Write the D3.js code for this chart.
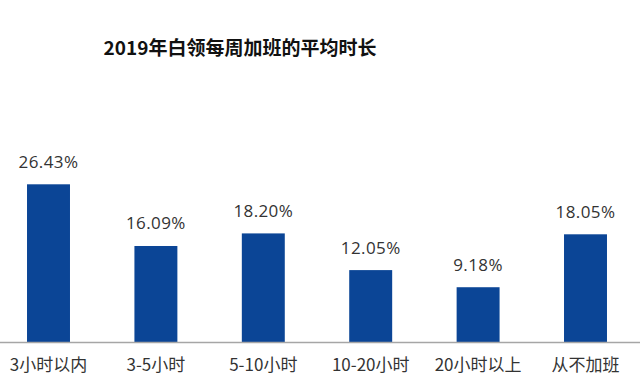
<!DOCTYPE html>
<html><head><meta charset="utf-8">
<script src="https://cdn.jsdelivr.net/npm/d3@7"></script>
<style>body{margin:0;background:#fff}</style>
</head><body>
<script>
const categories = ["3小时以内","3-5小时","5-10小时","10-20小时","20小时以上","从不加班"];
const values = [26.43, 16.09, 18.20, 12.05, 9.18, 18.05];
const valueLabels = ["26.43%","16.09%","18.20%","12.05%","9.18%","18.05%"];
const title = "2019年白领每周加班的平均时长";

const W = 643, H = 383;
const svg = d3.select("body").append("svg").attr("width", W).attr("height", H)
  .style("font-family", "'Noto Sans CJK SC','Noto Sans',sans-serif");

const x = d3.scaleBand().domain(categories).range([-5.2, 639.2]).paddingInner(0.6).paddingOuter(0.3);
const y = d3.scaleLinear().domain([0, 30]).range([342, 163]);

svg.append("text").attr("x", 240).attr("y", 55).attr("text-anchor", "middle")
  .attr("font-size", 19).attr("font-weight", "bold").attr("fill", "#111").text(title);

svg.selectAll("rect.bar").data(values).join("rect").attr("class","bar")
  .attr("x", (d,i) => x(categories[i])).attr("width", x.bandwidth())
  .attr("y", d => y(d)).attr("height", d => y(0) - y(d))
  .attr("fill", "#0b4596");

svg.selectAll("text.val").data(values).join("text").attr("class","val")
  .attr("x", (d,i) => x(categories[i]) + x.bandwidth()/2)
  .attr("y", d => y(d) - 16.5)
  .attr("text-anchor","middle").attr("font-size", 17).attr("fill","#333")
  .style("font-family","'Open Sans','Noto Sans',sans-serif")
  .style("letter-spacing","0.4px")
  .text((d,i) => valueLabels[i]);

svg.append("line").attr("x1", 0).attr("x2", 640).attr("y1", 342.5).attr("y2", 342.5)
  .attr("stroke", "#a6a6a6").attr("stroke-width", 1.5);

svg.selectAll("text.cat").data(categories).join("text").attr("class","cat")
  .attr("x", d => x(d) + x.bandwidth()/2).attr("y", 371)
  .attr("text-anchor","middle").attr("font-size", 17).attr("fill","#333")
  .text(d => d);
</script>
</body></html>
